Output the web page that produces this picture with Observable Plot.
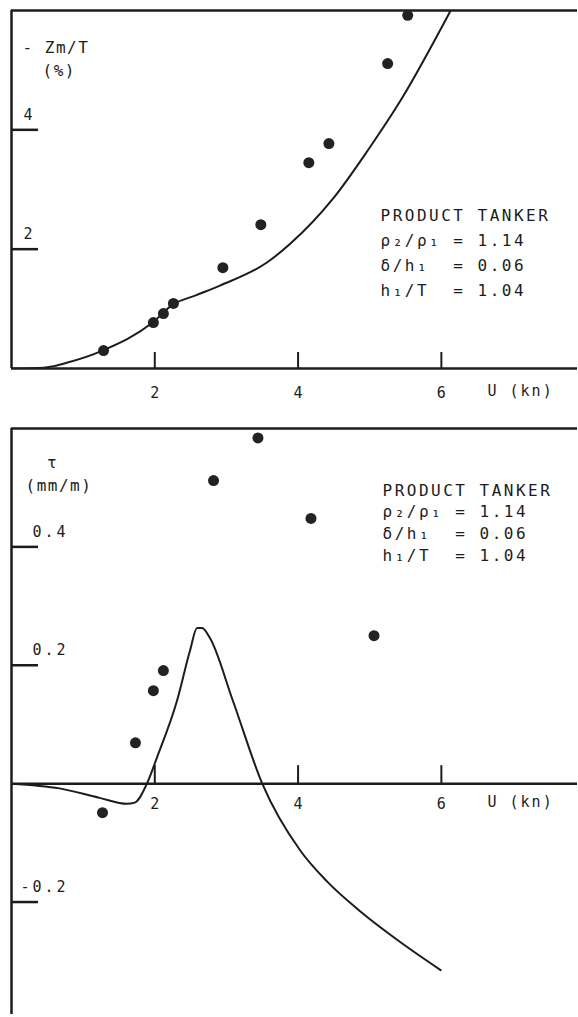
<!DOCTYPE html>
<html>
<head>
<meta charset="utf-8">
<script src="https://cdn.jsdelivr.net/npm/d3@7"></script>
<script src="https://cdn.jsdelivr.net/npm/@observablehq/plot@0.6"></script>
<style>
  html, body { margin: 0; padding: 0; background: #fff; }
  #chart svg { display: block; }
</style>
</head>
<body>
<div id="chart"></div>
<script>
// ---------- shared x axis ----------
const xDomain = [0, 7.9];
const xTicks = [2, 4, 6];
const xTickLabels = ["2", "4", "6"];
const xLabel = "U (kn)";

// ---------- top panel: sinkage -Zm/T (%) ----------
const topYDomain = [0, 6];
const topYTicks = [2, 4];
const topYTickLabels = ["2", "4"];
const topYLabel = ["- Zm/T", "(%)"];
const topCurveU = [0.0, 0.3, 0.59, 0.77, 1.27, 1.97, 2.25, 2.58, 2.91, 3.57, 3.89, 4.49, 4.97, 5.43, 6.13];
const topCurveZ = [0.0, 0.005, 0.04, 0.095, 0.30, 0.77, 1.07, 1.23, 1.39, 1.78, 2.09, 2.85, 3.65, 4.49, 6.0];
const topDotsU = [1.285, 1.98, 2.12, 2.26, 2.95, 3.48, 4.15, 4.43, 5.25, 5.53];
const topDotsZ = [0.30, 0.77, 0.92, 1.09, 1.69, 2.41, 3.45, 3.77, 5.11, 5.92];

// ---------- bottom panel: trim tau (mm/m) ----------
const botYDomain = [-0.39, 0.6];
const botYTicks = [0.4, 0.2, -0.2];
const botYTickLabels = ["0.4", "0.2", "-0.2"];
const botYLabel = ["τ", "(mm/m)"];
const botCurveU = [0.0, 0.67, 1.23, 1.61, 1.72, 1.89, 2.03, 2.31, 2.49, 2.59, 2.66, 2.77, 3.09, 3.50, 4.03, 4.41, 4.87, 5.43, 5.99];
const botCurveT = [0.0, -0.008, -0.024, -0.034, -0.032, 0.0, 0.044, 0.14, 0.224, 0.263, 0.263, 0.246, 0.14, 0.0, -0.113, -0.166, -0.216, -0.268, -0.315];
const botDotsU = [1.27, 1.73, 1.98, 2.12, 2.82, 3.44, 4.18, 5.06];
const botDotsT = [-0.049, 0.069, 0.157, 0.191, 0.512, 0.584, 0.448, 0.250];

// ---------- parameter block ----------
const paramLines = ["PRODUCT TANKER", "ρ₂/ρ₁ = 1.14", "δ/h₁  = 0.06", "h₁/T  = 1.04"];

const INK = "#1c1c1c";
const FONT = "DejaVu Sans Mono";

function zipXY(us, vs) { return us.map((u, i) => ({u, v: vs[i]})); }

function panel(cfg) {
  const marks = [
    Plot.ruleY([cfg.yDomain[1]], {stroke: INK, strokeWidth: 2.5}),
    Plot.ruleY([0], {stroke: INK, strokeWidth: 2.5}),
    Plot.ruleX([xDomain[0]], {stroke: INK, strokeWidth: 2.5}),
    Plot.ruleX(xTicks, {x: d => d, y1: 0, y2: 0, insetTop: -cfg.xTickLen, stroke: INK, strokeWidth: 2}),
    Plot.ruleY(cfg.yTicks, {y: d => d, x1: xDomain[0], x2: xDomain[0], insetRight: -27, stroke: INK, strokeWidth: 2.5}),
    Plot.text(cfg.yTicks, {y: d => d, text: (d, i) => cfg.yTickLabels[i], frameAnchor: "left",
      textAnchor: "end", dx: cfg.yLabDx, dy: -15, fontSize: 15, fill: INK}),
    Plot.text(xTicks, {x: d => d, y: 0, text: (d, i) => xTickLabels[i], dy: cfg.xLabDy,
      lineAnchor: "top", fontSize: 15, fill: INK}),
    Plot.text([xLabel], {y: 0, frameAnchor: "left", dx: 476, dy: cfg.xLabDy - 2, textAnchor: "start",
      lineAnchor: "top", fontSize: 15, fill: INK}),
    ...cfg.yLabel.map((t, i) => Plot.text([t], {frameAnchor: "top-left", dx: cfg.yTitle[i][0], dy: cfg.yTitle[i][1],
      textAnchor: cfg.yTitle[i][2], lineAnchor: "middle", fontSize: 16, fill: INK})),
    ...paramLines.map((t, i) => Plot.text([t], {frameAnchor: "top-left", dx: cfg.paramDx, dy: cfg.paramDy + i * cfg.paramStep,
      textAnchor: "start", lineAnchor: "middle", fontSize: 16, fill: INK})),
    Plot.line(zipXY(cfg.curveU, cfg.curveV), {x: "u", y: "v", curve: "monotone-x", stroke: INK, strokeWidth: 2, clip: true}),
    Plot.dot(zipXY(cfg.dotsU, cfg.dotsV), {x: "u", y: "v", r: 5.5, fill: "#222", stroke: "none"})
  ];
  const svg = Plot.plot({
    width: 578,
    height: cfg.height,
    marginTop: cfg.marginTop,
    marginBottom: cfg.marginBottom,
    marginLeft: 11,
    marginRight: 1,
    style: {fontFamily: FONT, background: "#fff", color: INK},
    x: {domain: xDomain, axis: null},
    y: {domain: cfg.yDomain, axis: null},
    marks
  });
  // widen the plotter-style lettering
  d3.select(svg).selectAll("text").each(function () {
    const t = this.textContent;
    let ls = null;
    if (paramLines.includes(t)) ls = 2.5;
    else if (t === xLabel) ls = 2;
    else if (cfg.yLabel.includes(t)) ls = 1.5;
    else if (cfg.yTickLabels.includes(t) && t.length > 1) ls = 3;
    if (ls !== null) d3.select(this).style("letter-spacing", ls + "px");
  });
  return svg;
}

const topPanel = panel({
  height: 406, marginTop: 10, marginBottom: 38,
  yDomain: topYDomain, yTicks: topYTicks, yTickLabels: topYTickLabels, yLabDx: 21,
  xTickLen: 16, xLabDy: 19,
  yLabel: topYLabel, yTitle: [[11, 37, "start"], [31, 60, "start"]],
  paramDx: 369, paramDy: 205, paramStep: 25,
  curveU: topCurveU, curveV: topCurveZ, dotsU: topDotsU, dotsV: topDotsZ
});

const bottomPanel = panel({
  height: 611, marginTop: 22, marginBottom: 3,
  yDomain: botYDomain, yTicks: botYTicks, yTickLabels: botYTickLabels, yLabDx: 57,
  xTickLen: 18, xLabDy: 15,
  yLabel: botYLabel, yTitle: [[41, 34, "middle"], [14, 57, "start"]],
  paramDx: 371, paramDy: 62, paramStep: 21.7,
  curveU: botCurveU, curveV: botCurveT, dotsU: botDotsU, dotsV: botDotsT
});

const chart = document.getElementById("chart");
chart.appendChild(topPanel);
chart.appendChild(bottomPanel);
</script>
</body>
</html>
